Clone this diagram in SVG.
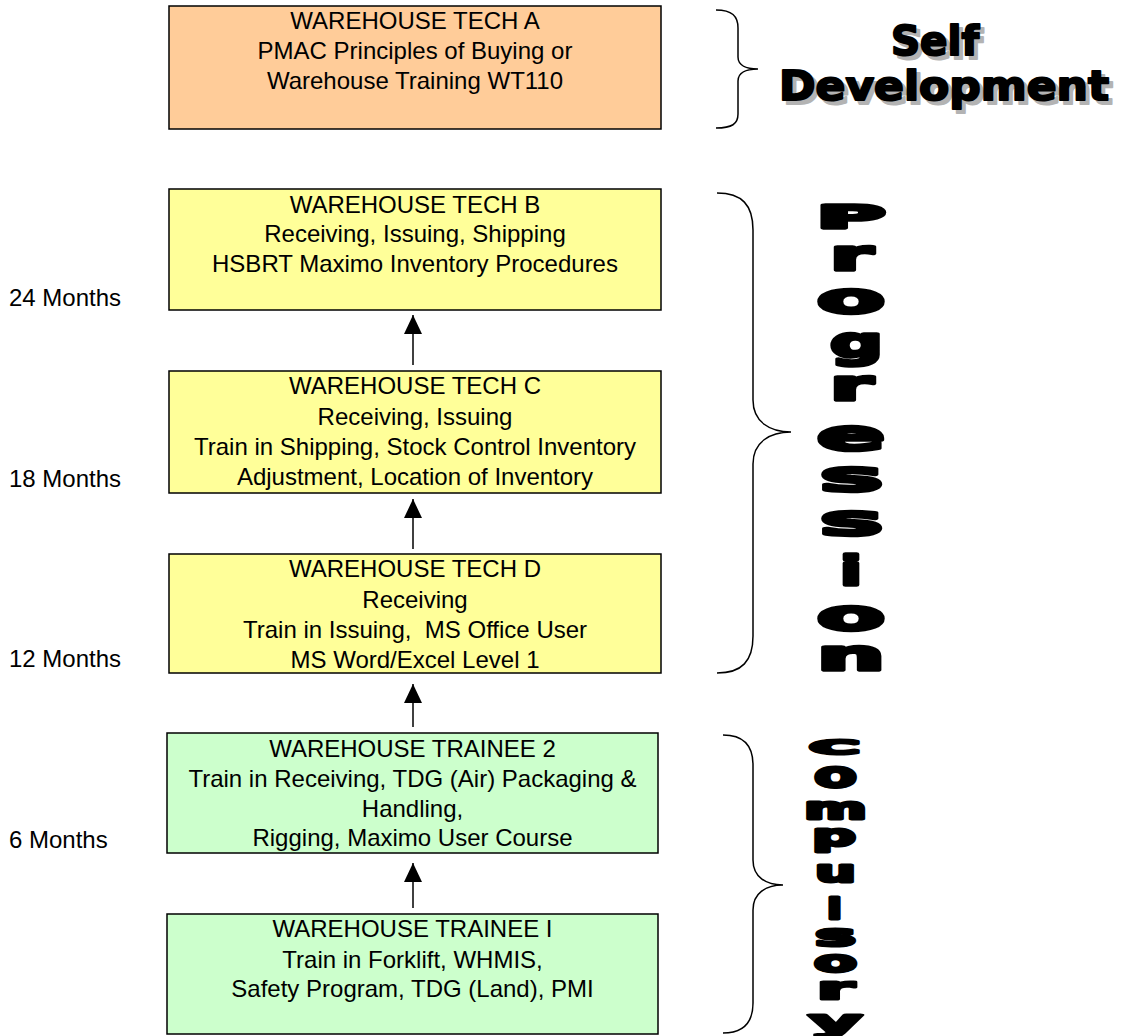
<svg xmlns="http://www.w3.org/2000/svg" width="1123" height="1036" viewBox="0 0 1123 1036">
<style>
.box{stroke:#000;stroke-width:1.5}
.orange{fill:#FFCC99}
.yellow{fill:#FFFF99}
.green{fill:#CCFFCC}
.t{font-family:"Liberation Sans",Arial,sans-serif;font-size:24px;fill:#000;text-anchor:middle;white-space:pre}
.m{font-family:"Liberation Sans",Arial,sans-serif;font-size:24px;fill:#000}
.brace{fill:none;stroke:#000;stroke-width:1.5}
.conn{stroke:#000;stroke-width:1.5;fill:none}
.big{font-family:"DejaVu Sans",Verdana,sans-serif;font-weight:bold;fill:#000;stroke:#000;stroke-width:3.5;stroke-linejoin:round}
.cb{font-family:"DejaVu Sans",Verdana,sans-serif;font-weight:bold;fill:#000;stroke:#000;stroke-width:3;stroke-linejoin:round}
.sd{font-family:"DejaVu Sans",Verdana,sans-serif;font-weight:bold;font-size:40px;stroke-width:2;stroke-linejoin:round}
</style>
<defs>
<marker id="ah" markerUnits="userSpaceOnUse" markerWidth="20" markerHeight="19" refX="19" refY="9" orient="auto">
<path d="M0,0 L19,9 L0,18 z" fill="#000"/>
</marker>
</defs>
<rect width="1123" height="1036" fill="#fff"/>

<g id="tech-a">
<rect class="box orange" x="169" y="6" width="492" height="123"/>
<text class="t" x="415" y="29">WAREHOUSE TECH A</text>
<text class="t" x="415" y="59">PMAC Principles of Buying or</text>
<text class="t" x="415" y="89">Warehouse Training WT110</text>
</g>

<g id="tech-b">
<rect class="box yellow" x="169" y="189" width="492" height="121"/>
<text class="t" x="415" y="213">WAREHOUSE TECH B</text>
<text class="t" x="415" y="242">Receiving, Issuing, Shipping</text>
<text class="t" x="415" y="272">HSBRT Maximo Inventory Procedures</text>
</g>

<g id="tech-c">
<rect class="box yellow" x="169" y="371" width="492" height="122"/>
<text class="t" x="415" y="394">WAREHOUSE TECH C</text>
<text class="t" x="415" y="425">Receiving, Issuing</text>
<text class="t" x="415" y="455">Train in Shipping, Stock Control Inventory</text>
<text class="t" x="415" y="485">Adjustment, Location of Inventory</text>
</g>

<g id="tech-d">
<rect class="box yellow" x="169" y="554" width="492" height="119"/>
<text class="t" x="415" y="577">WAREHOUSE TECH D</text>
<text class="t" x="415" y="608">Receiving</text>
<text class="t" x="415" y="638">Train in Issuing,  MS Office User</text>
<text class="t" x="415" y="668">MS Word/Excel Level 1</text>
</g>

<g id="trainee-2">
<rect class="box green" x="167" y="733" width="491" height="120"/>
<text class="t" x="412.5" y="757">WAREHOUSE TRAINEE 2</text>
<text class="t" x="412.5" y="787">Train in Receiving, TDG (Air) Packaging &amp;</text>
<text class="t" x="412.5" y="817">Handling,</text>
<text class="t" x="412.5" y="846">Rigging, Maximo User Course</text>
</g>

<g id="trainee-1">
<rect class="box green" x="167" y="914" width="491" height="120"/>
<text class="t" x="412.5" y="937">WAREHOUSE TRAINEE I</text>
<text class="t" x="412.5" y="968">Train in Forklift, WHMIS,</text>
<text class="t" x="412.5" y="997">Safety Program, TDG (Land), PMI</text>
</g>

<g id="months">
<text class="m" x="9" y="306">24 Months</text>
<text class="m" x="9" y="487">18 Months</text>
<text class="m" x="9" y="667">12 Months</text>
<text class="m" x="9" y="848">6 Months</text>
</g>

<g id="connectors">
<line class="conn" x1="413" y1="365" x2="413" y2="315" marker-end="url(#ah)"/>
<line class="conn" x1="413" y1="549" x2="413" y2="499" marker-end="url(#ah)"/>
<line class="conn" x1="413" y1="727" x2="413" y2="684" marker-end="url(#ah)"/>
<line class="conn" x1="413" y1="908" x2="413" y2="863" marker-end="url(#ah)"/>
</g>

<g id="braces">
<path class="brace" d="M716,10 C732,10 738,16 738,28 L738,57 C738,65 746,69 758,69 C746,69 738,73 738,81 L738,114 C738,124 732,128 716,128"/>
<path class="brace" d="M717,193 C742,193 753,205 753,230 L753,400 C753,422 770,432 791,432 C770,432 753,442 753,464 L753,636 C753,661 742,673 717,673"/>
<path class="brace" d="M723,735 C743,735 753,745 753,765 L753,860 C753,877 766,885 783,885 C766,885 753,893 753,910 L753,1003 C753,1023 743,1033 723,1033"/>
</g>

<g id="self-development">
<text class="sd" x="895" y="59" textLength="88" lengthAdjust="spacingAndGlyphs" fill="#B3B3B3" stroke="#B3B3B3">Self</text>
<text class="sd" x="783" y="104" textLength="330" lengthAdjust="spacingAndGlyphs" fill="#B3B3B3" stroke="#B3B3B3">Development</text>
<text class="sd" x="891" y="55" textLength="88" lengthAdjust="spacingAndGlyphs" fill="#000" stroke="#000">Self</text>
<text class="sd" x="779" y="100" textLength="330" lengthAdjust="spacingAndGlyphs" fill="#000" stroke="#000">Development</text>
</g>

<g id="progression">
<text class="big" x="817" y="228" font-size="32" textLength="68" lengthAdjust="spacingAndGlyphs">P</text>
<text class="big" x="830" y="270" font-size="43" textLength="43" lengthAdjust="spacingAndGlyphs">r</text>
<text class="big" x="817" y="313" font-size="43" textLength="68" lengthAdjust="spacingAndGlyphs">o</text>
<text class="big" x="830" y="357" font-size="43" textLength="53" lengthAdjust="spacingAndGlyphs">g</text>
<text class="big" x="830" y="400" font-size="43" textLength="43" lengthAdjust="spacingAndGlyphs">r</text>
<text class="big" x="817" y="450" font-size="43" textLength="68" lengthAdjust="spacingAndGlyphs">e</text>
<text class="big" x="820" y="491" font-size="43" textLength="63" lengthAdjust="spacingAndGlyphs">s</text>
<text class="big" x="820" y="535" font-size="43" textLength="63" lengthAdjust="spacingAndGlyphs">s</text>
<text class="big" x="840" y="585" font-size="41" textLength="22" lengthAdjust="spacingAndGlyphs">i</text>
<text class="big" x="817" y="630" font-size="43" textLength="68" lengthAdjust="spacingAndGlyphs">o</text>
<text class="big" x="817" y="670" font-size="43" textLength="68" lengthAdjust="spacingAndGlyphs">n</text>
</g>

<g id="compulsory">
<text class="cb" x="810" y="754" font-size="20" textLength="49" lengthAdjust="spacingAndGlyphs">C</text>
<text class="cb" x="814" y="787" font-size="36" textLength="43" lengthAdjust="spacingAndGlyphs">o</text>
<text class="cb" x="804" y="819" font-size="31" textLength="63" lengthAdjust="spacingAndGlyphs">m</text>
<text class="cb" x="812" y="846" font-size="31" textLength="44" lengthAdjust="spacingAndGlyphs">p</text>
<text class="cb" x="815" y="882" font-size="31" textLength="41" lengthAdjust="spacingAndGlyphs">u</text>
<text class="cb" x="827" y="919" font-size="29" textLength="15" lengthAdjust="spacingAndGlyphs">l</text>
<text class="cb" x="815" y="946" font-size="31" textLength="41" lengthAdjust="spacingAndGlyphs">s</text>
<text class="cb" x="814" y="972" font-size="31" textLength="43" lengthAdjust="spacingAndGlyphs">o</text>
<text class="cb" x="817" y="999" font-size="31" textLength="37" lengthAdjust="spacingAndGlyphs">r</text>
<text class="cb" x="809" y="1032" font-size="31" textLength="53" lengthAdjust="spacingAndGlyphs">y</text>
</g>
</svg>
